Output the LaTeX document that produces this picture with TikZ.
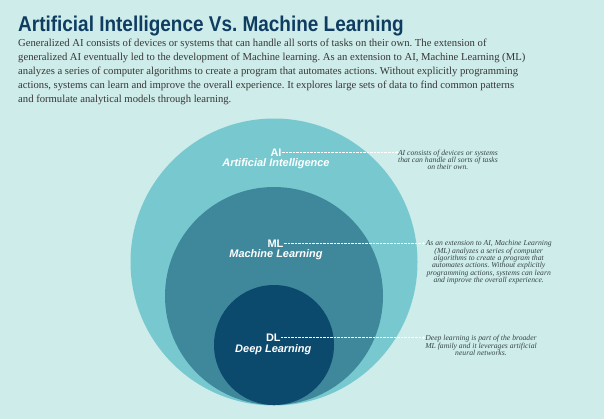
\documentclass[tikz,border=0pt]{standalone}
\usepackage{fontspec}
\setmainfont{Liberation Serif}
\setsansfont{Liberation Sans}
\newfontfamily\titlefont[FakeStretch=0.885]{Liberation Sans}
\definecolor{bg}{HTML}{CEECEA}
\definecolor{aicol}{HTML}{78C9CF}
\definecolor{mlcol}{HTML}{3F879B}
\definecolor{dlcol}{HTML}{0C4A6D}
\definecolor{titlecol}{HTML}{0F3D61}
\definecolor{bodycol}{HTML}{363636}
\definecolor{desccol}{HTML}{364646}
\frenchspacing
\tikzset{
  ring/.style={circle, inner sep=0pt, draw=none},
  tag/.style={font=\sffamily\bfseries\fontsize{11}{12}\selectfont, text=white, inner sep=0pt},
  tagname/.style={font=\sffamily\bfseries\itshape\fontsize{11}{12}\selectfont, text=white, inner sep=0pt},
  desc/.style={font=\itshape\fontsize{7.7}{7.3}\selectfont, text=desccol, align=center, inner sep=0pt},
  leader/.style={white, line width=0.7pt, dash pattern=on 0.7pt off 0.7pt},
  enddot/.style={circle, fill=white, inner sep=0pt, minimum size=2.6pt}
}
\begin{document}
\begin{tikzpicture}[x=1bp, y=-1bp]
\fill[bg] (0,0) rectangle (604,419);
\useasboundingbox (0,0) rectangle (604,419);
% title and intro
\node[anchor=base west, inner sep=0pt, text=titlecol, font=\titlefont\bfseries\fontsize{21.5}{24}\selectfont] (title) at (18,31) {Artificial Intelligence Vs. Machine Learning};
\node[anchor=base west, inner sep=0pt, text=bodycol, align=left, font=\fontsize{10.7}{14}\selectfont] (intro) at (18,102.5) {Generalized AI consists of devices or systems that can handle all sorts of tasks on their own. The extension of\\
generalized AI eventually led to the development of Machine learning. As an extension to AI, Machine Learning (ML)\\
analyzes a series of computer algorithms to create a program that automates actions. Without explicitly programming\\
actions, systems can learn and improve the overall experience. It explores large sets of data to find common patterns\\
and formulate analytical models through learning.};
% circles
\node[ring, fill=aicol, minimum size=287bp] (aic) at (274,262) {};
\node[ring, fill=mlcol, minimum size=218bp] (mlc) at (274,296) {};
\node[ring, fill=dlcol, minimum size=120bp] (dlc) at (274,345) {};
% labels
\node[tag] (ai) at (276,152.3) {AI};
\node[tagname] (ainame) at (276,163.5) {Artificial Intelligence};
\node[tag] (ml) at (275.5,243.3) {ML};
\node[tagname] (mlname) at (276,255) {Machine Learning};
\node[tag] (dl) at (273.3,337.7) {DL};
\node[tagname] (dlname) at (273.3,349.3) {Deep Learning};
% leader end points
\node[enddot] (aidot) at (397,152.3) {};
\node[enddot] (mldot) at (423.5,243.3) {};
\node[enddot] (dldot) at (423.5,337.7) {};
\draw[leader] (ai.east) -- (aidot.center);
\draw[leader] (ml.east) -- (mldot.center);
\draw[leader] (dl.east) -- (dldot.center);
% descriptions
\node[desc] (aidesc) at (448,160) {AI consists of devices or systems\\that can handle all sorts of tasks\\on their own.};
\node[desc] (mldesc) at (488.7,262.3) {As an extension to AI, Machine Learning\\(ML) analyzes a series of computer\\algorithms to create a program that\\automates actions. Without explicitly\\programming actions, systems can learn\\and improve the overall experience.};
\node[desc] (dldesc) at (481,345.5) {Deep learning is part of the broader\\ML family and it leverages artificial\\neural networks.};
\end{tikzpicture}
\end{document}
